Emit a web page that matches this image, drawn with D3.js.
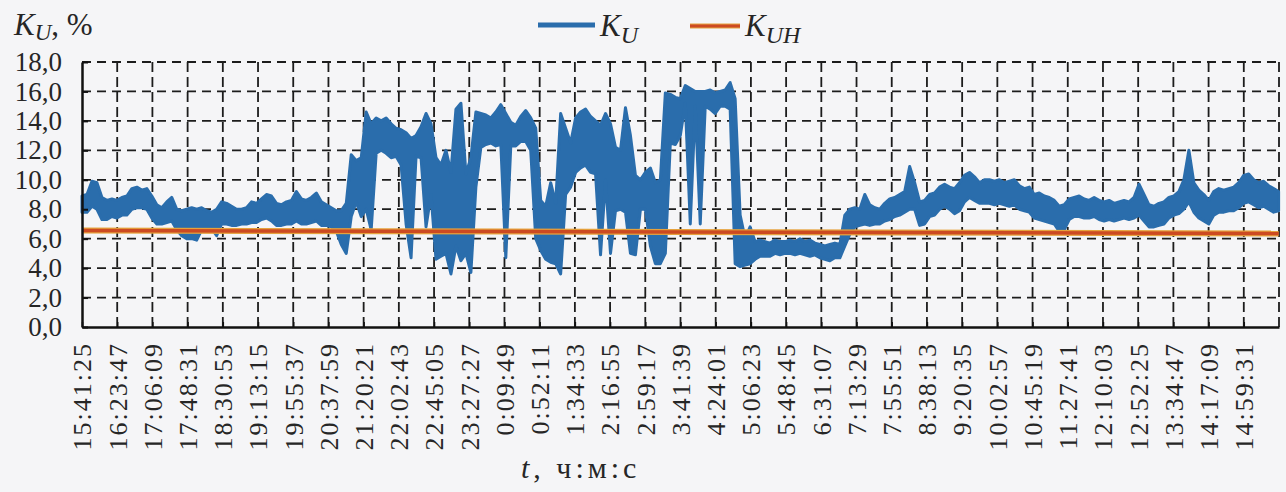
<!DOCTYPE html>
<html>
<head>
<meta charset="utf-8">
<script src="https://cdn.jsdelivr.net/npm/d3@7/dist/d3.min.js"></script>
<style>
    body { margin: 0; background: #f5f5f7; }
    svg { display: block; }
    text { font-family: "Liberation Serif", "Times New Roman", serif; fill: #262626; }
    .grid line { stroke: #1c1c1c; stroke-width: 1.8px; }
    .axis path, .axis line { stroke: #111; }
</style>
</head>
<body>
<svg width="1286" height="492"></svg>
<script>
// one bin = 6 min, bin 0 starts at 15:41:25
let binSec = 360;

// upper / lower edge of K_U inside each bin, %
let kuMax = [
    8.9, 9.0, 9.9, 9.8, 8.8, 8.6, 8.7, 8.6, 8.8, 8.9,
    9.4, 9.5, 9.3, 9.4, 8.9, 8.3, 8.1, 8.5, 8.8, 8.0,
    7.9, 8.0, 8.1, 8.0, 8.1, 7.9, 7.8, 8.0, 8.5, 8.4,
    8.2, 8.0, 8.0, 8.1, 8.5, 8.4, 8.7, 9.0, 8.9, 8.4,
    8.3, 8.5, 8.6, 9.2, 8.7, 8.6, 8.8, 9.1, 8.5, 8.3,
    8.1, 7.9, 7.9, 8.4, 11.7, 11.3, 11.5, 14.6, 13.8, 14.2,
    14.0, 14.2, 13.8, 13.5, 13.4, 13.2, 12.8, 13.0, 13.6, 14.5,
    13.8, 11.5, 11.0, 12.0, 10.5, 14.8, 15.2, 10.4, 11.5, 14.6,
    14.5, 14.4, 14.2, 14.6, 15.1, 14.5, 13.9, 13.7, 14.3, 14.7,
    14.2, 13.5, 8.6, 8.2, 9.8, 8.4, 14.5, 13.5, 12.5, 14.2,
    14.6, 14.8, 14.3, 14.0, 13.7, 14.5, 13.8, 12.2, 12.0, 14.9,
    13.0, 10.3, 10.0, 10.5, 10.8, 9.8, 10.0, 15.9, 15.8, 15.6,
    15.5, 16.4, 16.2, 16.0, 16.0, 16.0, 16.1, 15.9, 16.0, 16.1,
    16.6, 15.5, 7.6, 6.0, 6.8, 5.8, 5.9, 5.8, 5.7, 5.9,
    5.8, 5.8, 5.9, 5.8, 6.0, 5.8, 5.9, 5.7, 5.6, 5.5,
    5.6, 5.7, 5.6, 7.6, 8.0, 8.1, 8.0, 9.0, 8.3, 8.1,
    8.0, 8.4, 8.7, 8.8, 9.0, 9.2, 10.9, 9.8, 8.5, 8.6,
    9.0, 9.1, 9.5, 9.7, 9.5, 9.4, 9.8, 10.3, 10.5, 10.2,
    9.8, 10.0, 10.0, 9.9, 10.0, 9.8, 9.9, 10.0, 9.6, 9.4,
    9.5, 9.0, 9.1, 8.9, 8.8, 8.6, 8.2, 8.3, 8.7, 8.8,
    8.9, 8.7, 8.6, 8.8, 8.6, 8.5, 8.6, 8.4, 8.5, 8.6,
    8.5, 8.8, 9.7, 9.0, 8.3, 8.2, 8.4, 8.5, 8.8, 8.9,
    9.2, 10.0, 12.0, 9.8, 9.3, 9.0, 8.6, 9.2, 9.4, 9.3,
    9.4, 9.5, 9.8, 10.3, 10.4, 10.0, 9.8, 9.9, 9.6, 9.4,
    9.2
];
let kuMin = [
    7.8, 7.8, 8.2, 8.0, 7.3, 7.3, 7.5, 7.4, 7.6, 7.6,
    8.0, 8.1, 8.1, 8.0, 7.4, 7.0, 7.0, 7.1, 7.2, 6.6,
    6.2, 6.0, 6.0, 5.9, 6.6, 6.8, 6.7, 6.2, 7.0, 7.0,
    6.9, 6.9, 7.0, 7.0, 7.1, 7.1, 7.3, 7.4, 7.2, 6.9,
    6.9, 7.0, 7.0, 7.2, 7.0, 7.0, 7.1, 7.2, 6.9, 6.9,
    6.8, 6.5, 5.6, 5.0, 7.5, 8.5, 7.5, 8.0, 6.6, 11.8,
    12.0, 11.8, 11.5, 11.6, 11.0, 7.0, 4.7, 11.6, 11.5, 6.8,
    9.0, 4.6, 4.8, 5.0, 3.6, 5.5, 4.5, 5.0, 3.7, 9.5,
    12.2, 12.4, 12.5, 12.3, 12.4, 4.7, 12.3, 12.3, 12.6, 12.6,
    12.0, 6.0, 5.2, 4.6, 4.4, 4.3, 3.6, 9.0, 9.5, 10.5,
    10.8, 11.0, 10.5, 10.4, 4.9, 10.0, 5.0, 7.9, 8.0, 7.8,
    5.0, 4.9, 8.0, 8.0, 5.5, 4.3, 4.3, 5.0, 12.5, 12.4,
    13.0, 15.2, 7.0, 15.0, 7.0, 15.0, 14.8, 14.5, 15.0, 15.0,
    14.8, 4.3, 4.1, 4.2, 4.3, 4.6, 4.8, 4.8, 4.8, 5.0,
    4.9, 5.0, 5.0, 4.9, 5.0, 4.9, 4.8, 4.9, 4.7, 4.6,
    4.5, 4.7, 4.7, 5.5, 6.3, 6.8, 6.9, 7.0, 6.9, 7.0,
    7.0, 7.2, 7.3, 7.5, 7.6, 7.8, 8.0, 8.0, 6.9, 7.0,
    7.5, 7.6, 8.0, 8.2, 8.0, 7.7, 7.9, 8.5, 8.8, 8.6,
    8.4, 8.4, 8.4, 8.3, 8.4, 8.3, 8.2, 8.3, 8.0, 7.9,
    7.8, 7.4, 7.3, 7.2, 7.1, 7.0, 6.5, 6.6, 7.3, 7.5,
    7.5, 7.4, 7.4, 7.5, 7.3, 7.2, 7.3, 7.2, 7.3, 7.4,
    7.3, 7.4, 7.6, 7.2, 6.8, 6.8, 6.9, 7.0, 7.4, 7.6,
    7.7, 8.0, 8.5, 7.8, 7.4, 7.2, 7.0, 7.6, 7.8, 7.8,
    7.9, 7.9, 8.1, 8.4, 8.5, 8.3, 8.1, 8.2, 8.0, 7.8,
    7.9
];

// K_UH at start and end of the day
let kuhValues = [6.55, 6.35];

let tickStepSec = 2542;
let tickLabels = ["15:41:25", "16:23:47", "17:06:09", "17:48:31", "18:30:53", "19:13:15",
    "19:55:37", "20:37:59", "21:20:21", "22:02:43", "22:45:05", "23:27:27", "0:09:49",
    "0:52:11", "1:34:33", "2:16:55", "2:59:17", "3:41:39", "4:24:01", "5:06:23", "5:48:45",
    "6:31:07", "7:13:29", "7:55:51", "8:38:13", "9:20:35", "10:02:57", "10:45:19",
    "11:27:41", "12:10:03", "12:52:25", "13:34:47", "14:17:09", "14:59:31"];
let yTicks = [0, 2, 4, 6, 8, 10, 12, 14, 16, 18];
let yTickLabels = ["0,0", "2,0", "4,0", "6,0", "8,0", "10,0", "12,0", "14,0", "16,0", "18,0"];

let svg = d3.select("svg");

let plot = {left: 82, right: 1279, top: 62, bottom: 327};

let x = d3.scaleLinear()
    .domain([0, tickLabels.length * tickStepSec])
    .range([plot.left, plot.right]);

let y = d3.scaleLinear()
    .domain([0, 18])
    .range([plot.bottom, plot.top]);

let tickVals = d3.range(tickLabels.length).map(k => k * tickStepSec);

//dashed grid
let grid = svg.append("g").attr("class", "grid");
grid.selectAll("line.h")
    .data(yTicks.slice(1)).enter().append("line")
        .attr("class", "h")
        .attr("x1", plot.left).attr("x2", plot.right)
        .attr("y1", d => y(d)).attr("y2", d => y(d))
        .attr("stroke-dasharray", "9,6");
grid.selectAll("line.v")
    .data(d3.range(1, tickLabels.length + 1).map(k => k * tickStepSec)).enter().append("line")
        .attr("class", "v")
        .attr("x1", d => x(d)).attr("x2", d => x(d))
        .attr("y1", plot.top).attr("y2", plot.bottom)
        .attr("stroke-dasharray", "10,5");

//K_U: band between bin minimum and maximum
let ku = kuMax.map((v, i) => ({t: i * binSec, hi: v, lo: kuMin[i]}));

let band = d3.area()
    .x(d => x(d.t))
    .y0(d => y(d.lo))
    .y1(d => y(d.hi));

svg.append("path")
    .datum(ku)
    .attr("d", band)
    .attr("fill", "#2a6dac")
    .attr("stroke", "#2a6dac")
    .attr("stroke-width", 3)
    .attr("stroke-linejoin", "round");

//K_UH
let kuh = kuhValues.map((v, i) => ({t: i * (ku.length - 1) * binSec, v: v}));
let kuhLine = d3.line().x(d => x(d.t)).y(d => y(d.v));

svg.append("path")
    .datum(kuh)
    .attr("d", kuhLine)
    .attr("fill", "none")
    .attr("stroke", "#e6a23c")
    .attr("stroke-width", 6);
svg.append("path")
    .datum(kuh)
    .attr("d", kuhLine)
    .attr("fill", "none")
    .attr("stroke", "#cc4a22")
    .attr("stroke-width", 3.5);

//axes
let xAxis = d3.axisBottom(x)
    .tickValues(tickVals)
    .tickSize(-5)
    .tickSizeOuter(0)
    .tickFormat((d, i) => tickLabels[i]);

let gx = svg.append("g")
    .attr("class", "axis")
    .attr("transform", `translate(0,${plot.bottom})`)
    .call(xAxis);
gx.select(".domain").attr("stroke-width", 2.5);
gx.selectAll(".tick line").attr("stroke-width", 1.5);
gx.selectAll(".tick text")
    .attr("transform", "rotate(-90)")
    .attr("x", -15)
    .attr("y", 0)
    .attr("dy", "0.34em")
    .attr("text-anchor", "end")
    .style("font-size", "26px")
    .style("letter-spacing", "2px")
    .style("font-family", "'Liberation Serif', serif")
    .attr("fill", "#262626");

let yAxis = d3.axisLeft(y)
    .tickValues(yTicks)
    .tickSize(-6)
    .tickSizeOuter(0)
    .tickPadding(20)
    .tickFormat((d, i) => yTickLabels[i]);

let gy = svg.append("g")
    .attr("class", "axis")
    .attr("transform", `translate(${plot.left},0)`)
    .call(yAxis);
gy.select(".domain").attr("stroke-width", 2.5);
gy.selectAll(".tick line").attr("stroke-width", 2);
gy.selectAll(".tick text")
    .style("font-size", "27px")
    .style("font-family", "'Liberation Serif', serif")
    .attr("fill", "#262626");

//axis titles
let yTitle = svg.append("text")
    .attr("x", 14).attr("y", 35)
    .style("font-size", "31px");
yTitle.append("tspan").style("font-style", "italic").text("K");
yTitle.append("tspan").style("font-style", "italic").style("font-size", "23px").attr("dy", 5).text("U");
yTitle.append("tspan").attr("dy", -5).text(", %");

let xTitle = svg.append("text")
    .attr("x", 521).attr("y", 478)
    .style("font-size", "30px")
    .style("letter-spacing", "4px");
xTitle.append("tspan").style("font-style", "italic").text("t");
xTitle.append("tspan").text(", ч:м:с");

//legend
let legend = svg.append("g").attr("class", "legend");
legend.append("line")
    .attr("x1", 538).attr("x2", 595).attr("y1", 25).attr("y2", 25)
    .attr("stroke", "#2a6dac").attr("stroke-width", 5);
let l1 = legend.append("text").attr("x", 600).attr("y", 36).style("font-size", "31px");
l1.append("tspan").style("font-style", "italic").text("K");
l1.append("tspan").style("font-style", "italic").style("font-size", "24px").attr("dy", 7).text("U");

legend.append("line")
    .attr("x1", 690).attr("x2", 740).attr("y1", 26).attr("y2", 26)
    .attr("stroke", "#e6a23c").attr("stroke-width", 5);
legend.append("line")
    .attr("x1", 690).attr("x2", 740).attr("y1", 26).attr("y2", 26)
    .attr("stroke", "#cc4a22").attr("stroke-width", 3);
let l2 = legend.append("text").attr("x", 745).attr("y", 36).style("font-size", "31px");
l2.append("tspan").style("font-style", "italic").text("K");
l2.append("tspan").style("font-style", "italic").style("font-size", "24px").attr("dy", 7).text("UH");
</script>
</body>
</html>
